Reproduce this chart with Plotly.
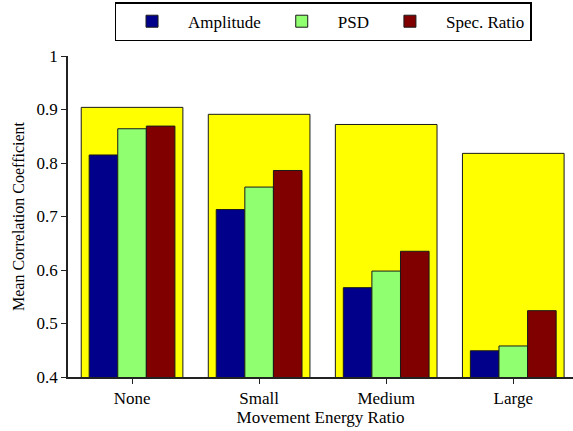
import plotly.graph_objects as go

categories = ["None", "Small", "Medium", "Large"]
overall = [0.904, 0.891, 0.872, 0.818]
amplitude = [0.815, 0.713, 0.567, 0.449]
psd = [0.864, 0.755, 0.598, 0.458]
spec_ratio = [0.869, 0.786, 0.635, 0.524]

FONT = "Liberation Serif"
EDGE = dict(color="#1a1a1a", width=1)

fig = go.Figure()
fig.add_trace(go.Bar(x=categories, y=overall, name="Overall", showlegend=False,
                     marker=dict(color="#ffff00", line=EDGE), width=0.8, offset=-0.4))
bw = 0.225
for name, vals, col, off in [("Amplitude", amplitude, "#00008b", -1.5 * bw),
                             ("PSD", psd, "#90ff70", -0.5 * bw),
                             ("Spec. Ratio", spec_ratio, "#800000", 0.5 * bw)]:
    fig.add_trace(go.Bar(x=categories, y=vals, name=name,
                         marker=dict(color=col, line=EDGE), width=bw, offset=off))

fig.update_layout(
    width=573, height=431,
    barmode="overlay",
    plot_bgcolor="white", paper_bgcolor="white",
    margin=dict(l=68, r=0, t=56, b=54, autoexpand=False),
    font=dict(family=FONT, size=16, color="black"),
    legend=dict(orientation="h", x=0.505, xanchor="center", yref="container", y=0.995,
                yanchor="top", bordercolor="black", borderwidth=1.5,
                font=dict(family=FONT, size=17, color="black"),
                itemwidth=62, traceorder="normal"),
    xaxis=dict(range=[-0.504, 3.47], showline=True, linecolor="#222", linewidth=1.5,
               ticks="outside", ticklen=5, tickcolor="#222", automargin=False,
               title=dict(text="Movement Energy Ratio", standoff=4,
                          font=dict(family=FONT, size=17, color="black")),
               tickfont=dict(family=FONT, size=17, color="black")),
    yaxis=dict(range=[0.4, 1.0], dtick=0.1, showline=True, linecolor="#222", linewidth=1.5,
               ticks="outside", ticklen=5, tickcolor="#222", showgrid=False, zeroline=False,
               tickformat="~g", automargin=False,
               title=dict(text="Mean Correlation Coefficient", standoff=8,
                          font=dict(family=FONT, size=16, color="black")),
               tickfont=dict(family=FONT, size=17, color="black")),
)
fig.write_html("out.html", config={"displayModeBar": False},
               post_script="document.body.style.margin='0';")
